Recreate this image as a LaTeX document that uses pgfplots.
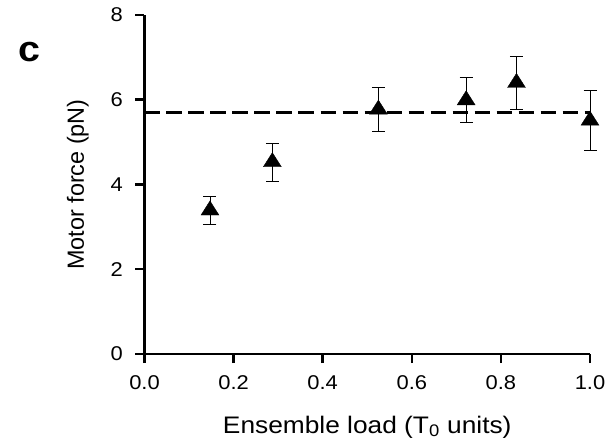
\documentclass[border=0pt]{standalone}
\usepackage{pgfplots}
\pgfplotsset{compat=1.18}
\usepackage{fontspec}
\setmainfont{Liberation Sans}
\begin{document}
\begin{tikzpicture}
\path[use as bounding box] (-144.5bp,-86bp) rectangle (462.5bp,354bp);
\begin{axis}[
  at={(0,0)}, anchor=south west,
  scale only axis, width=445.5bp, height=339bp,
  xmin=0, xmax=1, ymin=0, ymax=8,
  axis x line*=bottom, axis y line*=left,
  axis line style={line width=2.8bp, black},
  xtick={0,0.2,0.4,0.6,0.8,1.0},
  ytick={0,2,4,6,8},
  tick align=outside, major tick length=9bp,
  tick style={line width=2.5bp, black},
  /pgf/number format/assume math mode=true,
  xticklabel style={/pgf/number format/fixed, /pgf/number format/fixed zerofill, /pgf/number format/precision=1, font=\fontsize{20}{24}\selectfont, xscale=1.1, yshift=-9bp},
  yticklabel style={font=\fontsize{20}{24}\selectfont, xscale=1.1, xshift=-8bp},
  xlabel={Ensemble load (T\textsubscript{0} units)},
  ylabel={Motor force (pN)},
  xlabel style={at={(axis description cs:0.5,0)}, anchor=base, yshift=-79bp, font=\fontsize{24}{28}\selectfont, xscale=1.1},
  ylabel style={at={(axis description cs:0,0.5)}, anchor=base, yshift=60.5bp, font=\fontsize{23.5}{28}\selectfont},
  clip=false,
]
\addplot[black, line width=2.6bp, dash pattern=on 15.5bp off 6.5bp] coordinates {(0,5.7) (1,5.7)};
\addplot[only marks, mark=triangle*, mark size=9.4bp, mark options={xscale=1.1, black, fill=black},
  error bars/.cd, y dir=both, y explicit,
  error mark=|, error mark options={mark size=6.5bp, line width=0.8bp, black},
  error bar style={line width=0.8bp, black}]
  coordinates {
  (0.147,3.39) +- (0,0.34)
  (0.287,4.53) +- (0,0.45)
  (0.525,5.77) +- (0,0.51)
  (0.722,5.99) +- (0,0.535)
  (0.835,6.40) +- (0,0.625)
  (1.0,5.51) +- (0,0.71)
  };
\node[font=\fontsize{36}{40}\selectfont\bfseries, anchor=center, xscale=1.1] at (axis description cs:-0.258,0.892) {c};
\end{axis}
\end{tikzpicture}
\end{document}
